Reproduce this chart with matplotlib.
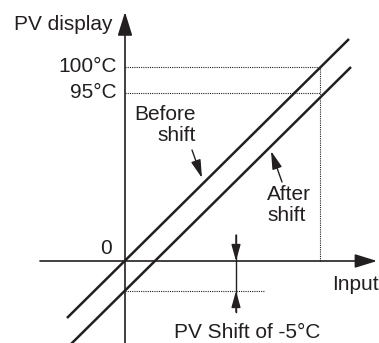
import matplotlib
matplotlib.use("Agg")
import matplotlib.pyplot as plt

plt.rcParams['font.family'] = ['Liberation Sans', 'DejaVu Sans']

# diagram units: origin at the axis crossing, values roughly in pixels
before_x = [-58, 224]
before_y = [-57, 222]
after_x = [-56, 226]
after_y = [-85, 194]

level_labels = ['100°C', '95°C']
level_y = [194, 168]
input_x = 195          # input where the display reaches 100°C
shift_y = -30          # where the shifted line crosses the PV axis
shift_label = 'PV Shift of -5°C'
shift_x = 111

ink = '#231f20'

fig = plt.figure(figsize=(3.79, 3.43), dpi=100)
ax = fig.add_axes([0, 0, 1, 1])
ax.set_xlim(-125, 254)
ax.set_ylim(-82, 261)
ax.axis('off')

def arrow(x0, y0, x1, y1, hl, hw, lw):
    ax.annotate('', xy=(x1, y1), xytext=(x0, y0),
                arrowprops=dict(arrowstyle='-|>,head_length=%g,head_width=%g' % (hl, hw),
                                color=ink, lw=lw, shrinkA=0, shrinkB=0))

# axes with arrow heads
arrow(-85, 0, 252, 0, 1.35, 0.42, 1.2)
arrow(0, -85, 0, 249, 1.45, 0.45, 1.2)

# dotted guides
for y in level_y:
    ax.plot([0, input_x], [y, y], ls=(0, (1, 1)), color=ink, lw=0.8)
ax.plot([input_x, input_x], [0, max(level_y)], ls=(0, (1, 1)), color=ink, lw=0.8)
ax.plot([0, 140], [shift_y, shift_y], ls=(0, (1, 1)), color=ink, lw=0.8)

# before / after lines
ax.plot(before_x, before_y, color=ink, lw=1.8, solid_capstyle='butt')
ax.plot(after_x, after_y, color=ink, lw=1.8, solid_capstyle='butt')

# text
fs = 15
ax.text(-12, 236, 'PV display', ha='right', va='center', fontsize=fs, color=ink)
for lab, y in zip(level_labels, level_y):
    ax.text(-8, y, lab, ha='right', va='center', fontsize=fs, color=ink)
ax.text(-13, 12, '0', ha='right', va='center', fontsize=fs, color=ink)
ax.text(71, 136, 'Before\nshift', ha='right', va='center', multialignment='right',
        fontsize=fs, color=ink, linespacing=1.1)
ax.text(142, 56, 'After\nshift', ha='left', va='center', multialignment='left',
        fontsize=fs, color=ink, linespacing=1.1)
ax.text(207, -24, 'Input', ha='left', va='center', fontsize=fs, color=ink)
ax.text(122, -72, shift_label, ha='center', va='center', fontsize=fs, color=ink)

# pointer arrows to the lines
arrow(67, 111, 77, 83, 1.1, 0.3, 1.0)
arrow(157, 79, 146, 110, 1.1, 0.3, 1.0)

# shift marker: one vertical line with two inward arrows
ax.plot([shift_x, shift_x], [26, -51], color=ink, lw=1.0)
arrow(shift_x, 26, shift_x, 0, 1.0, 0.28, 1.0)
arrow(shift_x, -51, shift_x, shift_y, 1.0, 0.28, 1.0)

fig.savefig('out.png', dpi=100)
